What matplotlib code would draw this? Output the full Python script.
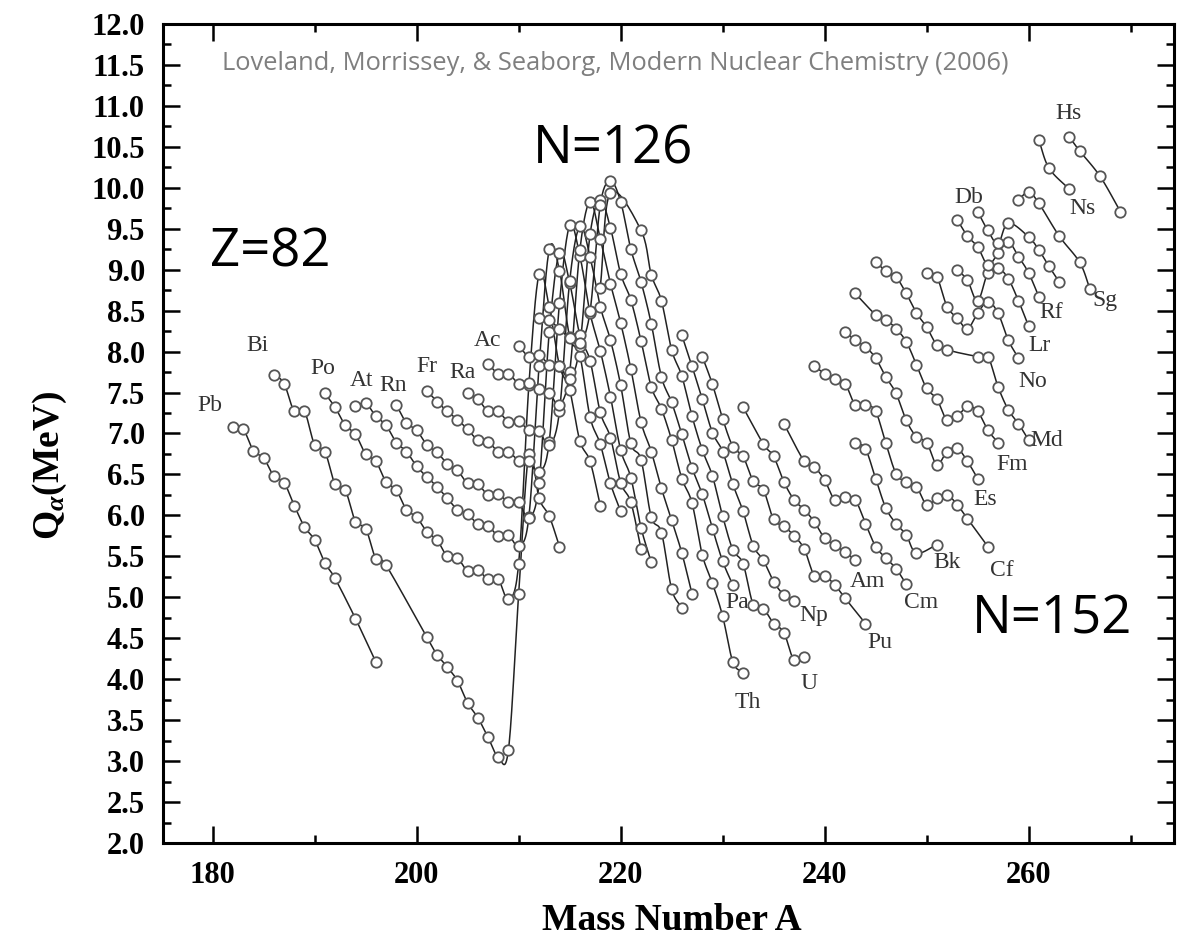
import numpy as np
import matplotlib
matplotlib.use("Agg")
import matplotlib.pyplot as plt
from matplotlib.ticker import MultipleLocator, FormatStrFormatter

# alpha-decay Q values (MeV) against mass number A, one chain per element
pb_a = [182, 183, 184, 185, 186, 187, 188, 189, 190, 191, 192, 194, 196]
pb_q = [7.08, 7.05, 6.79, 6.70, 6.48, 6.40, 6.12, 5.86, 5.70, 5.42, 5.23, 4.74, 4.21]

bi_a = [186, 187, 188, 189, 190, 191, 192, 193, 194, 195, 196, 197,
        201, 202, 203, 204, 205, 206, 207, 208, 209, 210, 211, 212, 213, 214]
bi_q = [7.72, 7.61, 7.27, 7.27, 6.86, 6.78, 6.38, 6.31, 5.92, 5.84, 5.47, 5.39,
        4.51, 4.30, 4.15, 3.98, 3.71, 3.53, 3.29, 3.05, 3.14, 5.04, 6.75, 6.21, 5.99, 5.62]

po_a = list(range(191, 219))
po_q = [7.49, 7.32, 7.10, 6.99, 6.75, 6.66, 6.41, 6.31, 6.07, 5.98, 5.80, 5.70, 5.50, 5.48,
        5.32, 5.33, 5.22, 5.22, 4.98, 5.41, 7.59, 8.95, 8.54, 7.83, 7.53, 6.91, 6.66, 6.12]

at_a = list(range(194, 221))
at_q = [7.33, 7.37, 7.21, 7.10, 6.89, 6.78, 6.60, 6.47, 6.35, 6.21, 6.07, 6.02, 5.89, 5.87,
        5.75, 5.76, 5.63, 5.98, 7.82, 9.25, 8.99, 8.18, 7.95, 7.20, 6.87, 6.39, 6.05]

rn_a = list(range(198, 223))
rn_q = [7.35, 7.13, 7.04, 6.86, 6.77, 6.63, 6.55, 6.39, 6.38, 6.25, 6.26, 6.16, 6.16,
        5.97, 6.39, 8.24, 9.21, 8.84, 8.20, 7.89, 7.26, 6.95, 6.40, 6.16, 5.59]

fr_a = list(range(201, 224))
fr_q = [7.52, 7.39, 7.27, 7.17, 7.05, 6.92, 6.90, 6.78, 6.78, 6.67, 6.66, 6.53, 6.90,
        8.59, 9.54, 9.17, 8.47, 8.01, 7.45, 6.80, 6.46, 5.85, 5.43]

ra_a = list(range(205, 227))
ra_q = [7.49, 7.42, 7.27, 7.27, 7.14, 7.15, 7.04, 7.03, 6.86, 7.27, 8.86, 9.53, 9.16,
        8.55, 8.14, 7.59, 6.88, 6.68, 5.98, 5.79, 5.10, 4.87]

ac_a = list(range(207, 228))
ac_q = [7.85, 7.73, 7.73, 7.61, 7.62, 7.54, 7.50, 7.35, 7.75, 9.24, 9.83, 9.38, 8.83,
        8.35, 7.79, 7.14, 6.78, 6.33, 5.94, 5.54, 5.04]

th_a = list(range(210, 233))
th_q = [8.07, 7.94, 7.96, 7.84, 7.83, 7.67, 8.07, 9.43, 9.85, 9.51, 8.95, 8.63, 8.13,
        7.57, 7.30, 6.92, 6.45, 6.15, 5.52, 5.17, 4.77, 4.21, 4.08]

pa_a = list(range(212, 232))
pa_q = [8.41, 8.39, 8.27, 8.17, 8.10, 8.49, 9.79, 10.08, 9.83, 9.25, 8.85, 8.34, 7.69,
        7.38, 6.99, 6.58, 6.26, 5.84, 5.44, 5.15]

u_a = [218, 219] + list(range(222, 239))
u_q = [8.78, 9.94, 9.48, 8.94, 8.62, 8.02, 7.70, 7.21, 6.80, 6.48, 5.99, 5.58, 5.41,
       4.91, 4.86, 4.68, 4.57, 4.23, 4.27]

np_a = list(range(226, 238))
np_q = [8.20, 7.82, 7.42, 7.01, 6.78, 6.38, 6.05, 5.63, 5.45, 5.19, 5.03, 4.95]

pu_a = list(range(228, 243)) + [244]
pu_q = [7.94, 7.60, 7.18, 6.84, 6.72, 6.42, 6.31, 5.95, 5.87, 5.75, 5.59, 5.26, 5.26,
        5.15, 4.99, 4.68]

am_a = [232, 234, 235, 236, 237, 238, 239, 240, 241, 242, 243]
am_q = [7.32, 6.87, 6.72, 6.41, 6.19, 6.07, 5.92, 5.72, 5.64, 5.55, 5.46]

cm_a = [236, 238, 239, 240, 241, 242, 243, 244, 245, 246, 247, 248]
cm_q = [7.12, 6.66, 6.59, 6.43, 6.19, 6.23, 6.19, 5.90, 5.62, 5.48, 5.35, 5.16]

bk_a = [243, 244, 245, 246, 247, 248, 249, 251]
bk_q = [6.89, 6.81, 6.45, 6.09, 5.90, 5.76, 5.54, 5.64]

cf_a = [239, 240, 241, 242, 243, 244, 245, 246, 247, 248, 249, 250, 251, 252, 253, 254, 256]
cf_q = [7.82, 7.73, 7.67, 7.61, 7.35, 7.35, 7.27, 6.88, 6.51, 6.41, 6.35, 6.13, 6.21,
        6.25, 6.13, 5.96, 5.62]

es_a = list(range(242, 256))
es_q = [8.24, 8.14, 8.06, 7.92, 7.69, 7.49, 7.16, 6.96, 6.89, 6.62, 6.78, 6.82, 6.66, 6.45]

fm_a = [243, 245, 246, 247, 248, 249, 250, 251, 252, 253, 254, 255, 256, 257]
fm_q = [8.71, 8.45, 8.39, 8.28, 8.12, 7.84, 7.55, 7.42, 7.16, 7.21, 7.33, 7.27, 7.04, 6.89]

md_a = [245, 246, 247, 248, 249, 250, 251, 252, 255, 256, 257, 258, 259, 260]
md_q = [9.10, 8.98, 8.91, 8.71, 8.47, 8.30, 8.08, 8.02, 7.94, 7.94, 7.57, 7.29, 7.12, 6.92]

no_a = list(range(250, 260))
no_q = [8.96, 8.91, 8.55, 8.41, 8.28, 8.47, 8.61, 8.47, 8.14, 7.92]

lr_a = list(range(253, 261))
lr_q = [9.00, 8.87, 8.62, 8.96, 9.02, 8.89, 8.62, 8.31]

rf_a = list(range(253, 262))
rf_q = [9.61, 9.41, 9.28, 9.06, 9.20, 9.34, 9.16, 8.96, 8.67]

db_a = [255, 256, 257, 258, 260, 261, 262, 263]
db_q = [9.71, 9.48, 9.32, 9.57, 9.40, 9.24, 9.04, 8.85]

sg_a = [259, 260, 261, 263, 265, 266]
sg_q = [9.85, 9.95, 9.81, 9.41, 9.09, 8.77]

ns_a = [261, 262, 264]
ns_q = [10.58, 10.24, 9.98]

hs_a = [264, 265, 267, 269]
hs_q = [10.62, 10.45, 10.14, 9.71]

chains = [
    ("Pb", pb_a, pb_q), ("Bi", bi_a, bi_q), ("Po", po_a, po_q), ("At", at_a, at_q),
    ("Rn", rn_a, rn_q), ("Fr", fr_a, fr_q), ("Ra", ra_a, ra_q), ("Ac", ac_a, ac_q),
    ("Th", th_a, th_q), ("Pa", pa_a, pa_q), ("U", u_a, u_q), ("Np", np_a, np_q),
    ("Pu", pu_a, pu_q), ("Am", am_a, am_q), ("Cm", cm_a, cm_q), ("Bk", bk_a, bk_q),
    ("Cf", cf_a, cf_q), ("Es", es_a, es_q), ("Fm", fm_a, fm_q), ("Md", md_a, md_q),
    ("No", no_a, no_q), ("Lr", lr_a, lr_q), ("Rf", rf_a, rf_q), ("Db", db_a, db_q),
    ("Sg", sg_a, sg_q), ("Ns", ns_a, ns_q), ("Hs", hs_a, hs_q),
]

# where each element name sits (data coordinates)
label_at = {
    "Pb": (179.7, 7.34), "Bi": (184.4, 8.08), "Po": (190.8, 7.79), "At": (194.6, 7.65),
    "Rn": (197.7, 7.59), "Fr": (201.0, 7.82), "Ra": (204.5, 7.74), "Ac": (206.9, 8.14),
    "Th": (232.5, 3.71), "Pa": (231.4, 4.94), "U": (238.5, 3.95), "Np": (238.9, 4.78),
    "Pu": (245.4, 4.45), "Am": (244.2, 5.19), "Cm": (249.5, 4.94), "Bk": (252.0, 5.42),
    "Cf": (257.4, 5.33), "Es": (255.7, 6.19), "Fm": (258.4, 6.62), "Md": (261.8, 6.92),
    "No": (260.4, 7.63), "Lr": (261.1, 8.08), "Rf": (262.2, 8.48), "Sg": (267.5, 8.63),
    "Ns": (265.3, 9.75), "Hs": (263.9, 10.91), "Db": (254.1, 9.88),
}


def smooth(xs, ys, n=16):
    # uniform Catmull-Rom through the points, done in pixel-ish units
    sx, sy = 10.2, 81.9
    p = np.column_stack([np.asarray(xs, float) * sx, np.asarray(ys, float) * sy])
    if len(p) < 3:
        return p[:, 0] / sx, p[:, 1] / sy
    p = np.vstack([2 * p[0] - p[1], p, 2 * p[-1] - p[-2]])
    t = np.linspace(0, 1, n, endpoint=False)[:, None]
    out = []
    for i in range(1, len(p) - 2):
        p0, p1, p2, p3 = p[i - 1], p[i], p[i + 1], p[i + 2]
        out.append(0.5 * (2 * p1 + (p2 - p0) * t
                          + (2 * p0 - 5 * p1 + 4 * p2 - p3) * t ** 2
                          + (3 * p1 - p0 - 3 * p2 + p3) * t ** 3))
    out.append(p[-2][None, :])
    out = np.vstack(out)
    return out[:, 0] / sx, out[:, 1] / sy


plt.rcParams['mathtext.fontset'] = 'custom'
plt.rcParams['mathtext.rm'] = 'Liberation Serif:bold'
plt.rcParams['mathtext.it'] = 'Liberation Serif:bold:italic'
plt.rcParams['mathtext.bf'] = 'Liberation Serif:bold'

W, H = 1181, 940
fig = plt.figure(figsize=(W / 100, H / 100), dpi=100)
ax = fig.add_axes([163 / W, (H - 843) / H, (1174 - 163) / W, (843 - 24) / H])

for name, a, q in chains:
    cx, cy = smooth(a, q)
    ax.plot(cx, cy, color='#222222', lw=1.1, zorder=2)
    ax.plot(a, q, 'o', ms=7.5, mfc='white', mec='#555555', mew=1.3, zorder=3)
    lx, ly = label_at[name]
    ax.text(lx, ly, name, family='Liberation Serif', fontsize=17, color='#333333',
            ha='center', va='center', zorder=4)

ax.set_xlim(175.13, 274.25)
ax.set_ylim(2.0, 12.0)
ax.xaxis.set_major_locator(MultipleLocator(20))
ax.xaxis.set_minor_locator(MultipleLocator(10))
ax.yaxis.set_major_locator(MultipleLocator(0.5))
ax.yaxis.set_minor_locator(MultipleLocator(0.25))
ax.yaxis.set_major_formatter(FormatStrFormatter('%.1f'))
ax.tick_params(which='both', direction='in', top=True, right=True, width=1.8)
ax.tick_params(which='major', length=12, pad=13)
ax.tick_params(which='minor', length=6)
for lab in ax.get_xticklabels() + ax.get_yticklabels():
    lab.set_family('Liberation Serif')
    lab.set_weight('bold')
    lab.set_fontsize(22)
for s in ax.spines.values():
    s.set_linewidth(2.2)

fig.text(672 / W, 1 - 920 / H, 'Mass Number A', family='Liberation Serif',
         weight='bold', fontsize=27, ha='center', va='center')
fig.text(50 / W, 1 - 465 / H, r'Q$_{\alpha}$(MeV)', family='Liberation Serif',
         weight='bold', fontsize=27, ha='center', va='center', rotation=90)

ax.text(0.058, 0.952, 'Loveland, Morrissey, & Seaborg, Modern Nuclear Chemistry (2006)',
        transform=ax.transAxes, family='Open Sans', fontsize=18.4, color='#7f7f7f',
        ha='left', va='center')

hand = dict(family='Open Sans', fontsize=38, color='black', ha='center', va='center')
fig.text(613 / W, 1 - 150 / H, 'N=126', **hand)
fig.text(270 / W, 1 - 253 / H, 'Z=82', **hand)
fig.text(1052 / W, 1 - 620 / H, 'N=152', **hand)

fig.savefig('out.png', dpi=100, facecolor='white')
